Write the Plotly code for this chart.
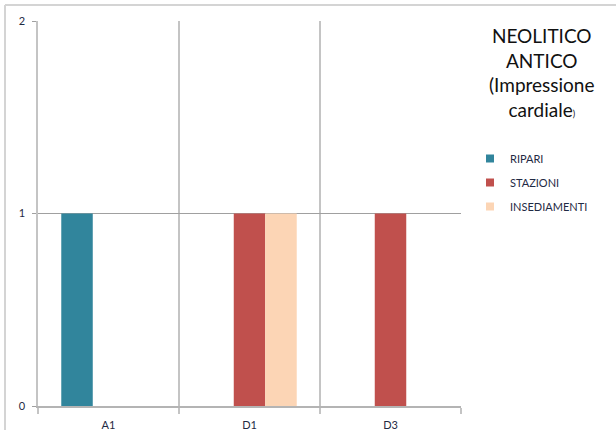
import plotly.graph_objects as go

# Sites and counts per settlement type
categories = ["A1", "D1", "D3"]
ripari = [1, 0, 0]
stazioni = [0, 1, 1]
insediamenti = [0, 1, 0]
y_ticks = [0, 1, 2]

W, H = 616, 430
L, R, T, B = 38, 155, 21, 24
pw, ph = W - L - R, H - T - B

FONT = "Lato"
TXT = "#1f2a44"

fig = go.Figure()
series = [
    ("RIPARI", ripari, "#31859C"),
    ("STAZIONI", stazioni, "#C0504D"),
    ("INSEDIAMENTI", insediamenti, "#FCD5B5"),
]
for i, (name, vals, col) in enumerate(series):
    fig.add_trace(go.Bar(
        x=categories, y=vals, name=name, marker_color=col,
        marker_line_width=0, showlegend=False, hoverinfo="x+y+name",
    ))
    # small square swatch for the legend
    fig.add_trace(go.Scatter(
        x=[None], y=[None], mode="markers", name=name, legendgroup=f"g{i}",
        marker=dict(symbol="square", size=8, color=col), hoverinfo="skip",
    ))

fig.update_layout(
    width=W, height=H,
    margin=dict(l=L, r=R, t=T, b=B, pad=0, autoexpand=False),
    paper_bgcolor="white", plot_bgcolor="white",
    barmode="group", bargap=0.33, bargroupgap=0,
    font=dict(family=FONT, size=11, color=TXT),
    showlegend=True,
    legend=dict(
        x=(470 - L) / pw, y=(H - B - 144) / ph, xanchor="left", yanchor="top",
        font=dict(family=FONT, size=11, color=TXT),
        tracegroupgap=5, traceorder="grouped", itemwidth=30,
        bgcolor="rgba(0,0,0,0)",
    ),
    xaxis=dict(
        tickson="boundaries", showgrid=True, gridcolor="#c4c4c4", gridwidth=1.5,
        ticks="outside", ticklen=6, tickcolor="#c4c4c4", tickwidth=1.5,
        showline=True, linecolor="#b4b4b4", linewidth=1.5,
        tickfont=dict(family=FONT, size=11, color=TXT), ticklabelstandoff=8,
        fixedrange=True, automargin=False,
    ),
    yaxis=dict(
        range=[0, 2], tickvals=y_ticks, showgrid=True, gridcolor="#a0a0a0",
        gridwidth=1, zeroline=False, ticks="outside", ticklen=4,
        tickcolor="#a0a0a0", showline=True, linecolor="#c4c4c4", linewidth=1.5,
        tickfont=dict(family=FONT, size=11, color=TXT), ticklabelstandoff=5,
        fixedrange=True, automargin=False,
    ),
)

fig.add_annotation(
    text="NEOLITICO<br>ANTICO<br>(Impressione<br>cardiale<span style='font-size:9px'>)</span>",
    xref="paper", yref="paper", x=(542 - L) / pw, y=(H - B - 22) / ph,
    xanchor="center", yanchor="top", showarrow=False, align="center",
    font=dict(family=FONT, size=19, color="#111111"),
)

# Frame lines along the top and left of the chart area
gx = (5 - L) / pw
gy = (H - B - 5) / ph
fig.add_shape(type="line", xref="paper", yref="paper", x0=gx, x1=(W - L) / pw,
              y0=gy, y1=gy, line=dict(color="#d4d4d4", width=2))
fig.add_shape(type="line", xref="paper", yref="paper", x0=gx, x1=gx,
              y0=gy, y1=-B / ph, line=dict(color="#d4d4d4", width=2))

fig.write_html("out.html")
